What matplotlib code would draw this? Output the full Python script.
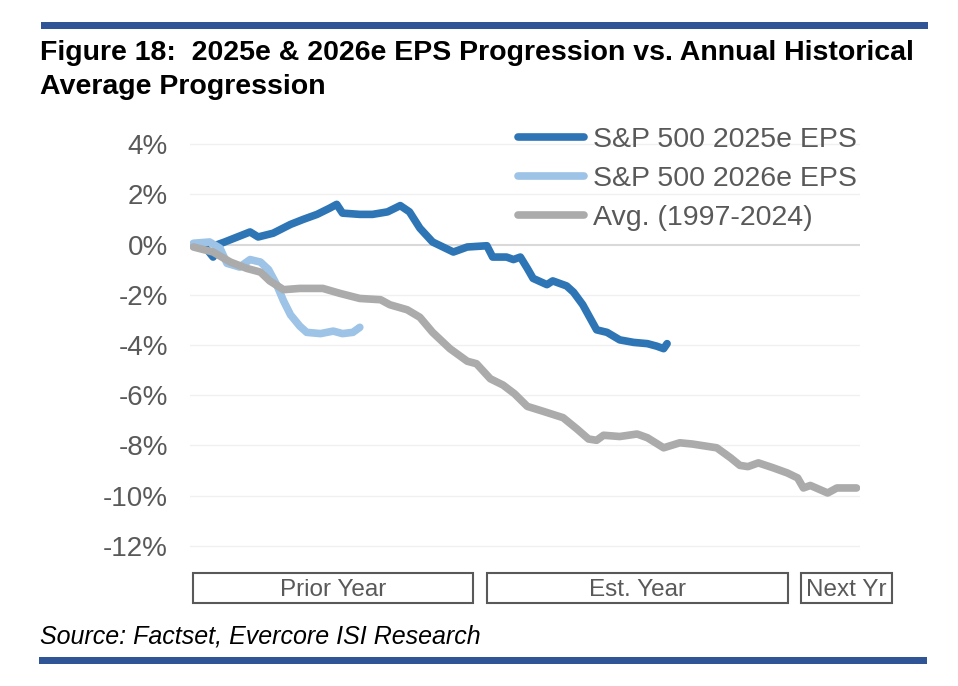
import matplotlib
matplotlib.use("Agg")
import matplotlib.pyplot as plt
from matplotlib.patches import Rectangle

plt.rcParams['font.family'] = ['Liberation Sans', 'DejaVu Sans']

# ---------------- data ----------------
title_lines = ["Figure 18:  2025e & 2026e EPS Progression vs. Annual Historical",
               "Average Progression"]
source_text = "Source: Factset, Evercore ISI Research"
series_names = ["S&P 500 2025e EPS", "S&P 500 2026e EPS", "Avg. (1997-2024)"]
period_labels = ["Prior Year", "Est. Year", "Next Yr"]
y_ticks = [4, 2, 0, -2, -4, -6, -8, -10, -12]
y_tick_labels = ["4%", "2%", "0%", "-2%", "-4%", "-6%", "-8%", "-10%", "-12%"]

# trading-day index from start of the prior year
eps25_day = [3, 13, 20, 24, 30, 41, 52, 59, 72, 87, 98, 110, 121, 127, 132, 147,
             158, 171, 182, 190, 199, 210, 228, 240, 257, 262, 274, 280, 286,
             292, 297, 309, 314, 326, 332, 340, 346, 352, 361, 372, 384, 396,
             404, 410, 413]
eps25_pct = [0.0, -0.1, -0.5, 0.0, 0.1, 0.3, 0.5, 0.3, 0.45, 0.8, 1.0, 1.2, 1.45,
             1.6, 1.25, 1.2, 1.2, 1.3, 1.55, 1.3, 0.65, 0.1, -0.3, -0.1, -0.05,
             -0.5, -0.5, -0.6, -0.5, -0.95, -1.35, -1.6, -1.45, -1.65, -1.9,
             -2.4, -2.9, -3.4, -3.5, -3.8, -3.9, -3.95, -4.05, -4.15, -3.95]

eps26_day = [3, 17, 26, 32, 43, 52, 61, 68, 75, 81, 87, 95, 101, 113, 124, 132,
             141, 147]
eps26_pct = [0.05, 0.1, -0.15, -0.75, -0.9, -0.6, -0.7, -1.0, -1.6, -2.25, -2.8,
             -3.25, -3.5, -3.55, -3.45, -3.55, -3.5, -3.3]

avg_day = [3, 20, 35, 49, 61, 69, 81, 95, 115, 130, 147, 165, 173, 188, 199, 210,
           225, 240, 248, 260, 271, 281, 292, 306, 323, 335, 345, 352, 358, 372,
           387, 396, 410, 424, 435, 456, 468, 476, 483, 492, 505, 517, 526, 531,
           537, 552, 560, 577]
avg_pct = [-0.1, -0.3, -0.7, -0.95, -1.1, -1.45, -1.8, -1.75, -1.75, -1.95, -2.15,
           -2.2, -2.4, -2.6, -2.9, -3.5, -4.15, -4.65, -4.75, -5.35, -5.6, -5.95,
           -6.45, -6.65, -6.9, -7.35, -7.75, -7.8, -7.6, -7.65, -7.55, -7.7, -8.1,
           -7.9, -7.95, -8.1, -8.5, -8.8, -8.85, -8.7, -8.9, -9.1, -9.3, -9.7,
           -9.6, -9.9, -9.7, -9.7]

series_days = [eps25_day, eps26_day, avg_day]
series_vals = [eps25_pct, eps26_pct, avg_pct]
series_colors = ["#2E75B6", "#9DC3E6", "#ABABAB"]

# ---------------- layout ----------------
W, H = 958, 686
def fx(px):
    return px / W
def fy(py):
    return 1 - py / H

fig = plt.figure(figsize=(W / 100, H / 100), dpi=100)
fig.patch.set_facecolor("white")

ax = fig.add_axes([fx(190), fy(558.25), (860 - 190) / W, (558.25 - 131.55) / H])
ax.set_xlim(0, 580)
ax.set_ylim(-12.5, 4.5)

handles = []
for d, v, c, n in zip(series_days, series_vals, series_colors, series_names):
    ln, = ax.plot(d, v, color=c, lw=5.5, solid_capstyle="round",
                  solid_joinstyle="round", label=n)
    handles.append(ln)

ax.set_yticks(y_ticks)
ax.set_yticklabels(y_tick_labels)
ax.tick_params(axis="y", length=0, pad=16, labelsize=20, labelcolor="#595959")
ax.set_xticks([])
for s in ax.spines.values():
    s.set_visible(False)
ax.yaxis.grid(True, color="#f0f0f0", lw=1)
ax.set_axisbelow(True)
for t, gl in zip(y_ticks, ax.get_ygridlines()):
    if t == 0:
        gl.set_color("#d9d9d9")
        gl.set_linewidth(1.5)

leg = ax.legend(handles=handles, loc="upper left",
                bbox_to_anchor=(fx(518), fy(127)), bbox_transform=fig.transFigure,
                frameon=False, fontsize=20.5, handlelength=2.32, handletextpad=0.3,
                labelspacing=0.45, borderpad=0, borderaxespad=0,
                labelcolor="#595959")

# title
fig.text(fx(40), fy(60), title_lines[0], fontsize=20.5, fontweight="bold",
         color="black", va="baseline", ha="left")
fig.text(fx(40), fy(94), title_lines[1], fontsize=20.5, fontweight="bold",
         color="black", va="baseline", ha="left")

# blue rules
bar_color = "#2F5597"
fig.add_artist(Rectangle((fx(41), fy(28.5)), (928 - 41) / W, 6.5 / H,
                         transform=fig.transFigure, color=bar_color, lw=0))
fig.add_artist(Rectangle((fx(39), fy(664.3)), (927 - 39) / W, 7 / H,
                         transform=fig.transFigure, color=bar_color, lw=0))

# period boxes
box_x = [(193, 473), (487, 788), (801, 892)]
for (x0, x1), lab in zip(box_x, period_labels):
    fig.add_artist(Rectangle((fx(x0), fy(603)), (x1 - x0) / W, 30 / H,
                             transform=fig.transFigure, fill=False,
                             ec="#595959", lw=1.5))
    fig.text(fx((x0 + x1) / 2), fy(589.5), lab, fontsize=17.5, color="#595959",
             ha="center", va="center")

# source
fig.text(fx(40), fy(643.5), source_text, fontsize=18, style="italic",
         color="black", va="baseline", ha="left")

fig.savefig("out.png", dpi=100)
